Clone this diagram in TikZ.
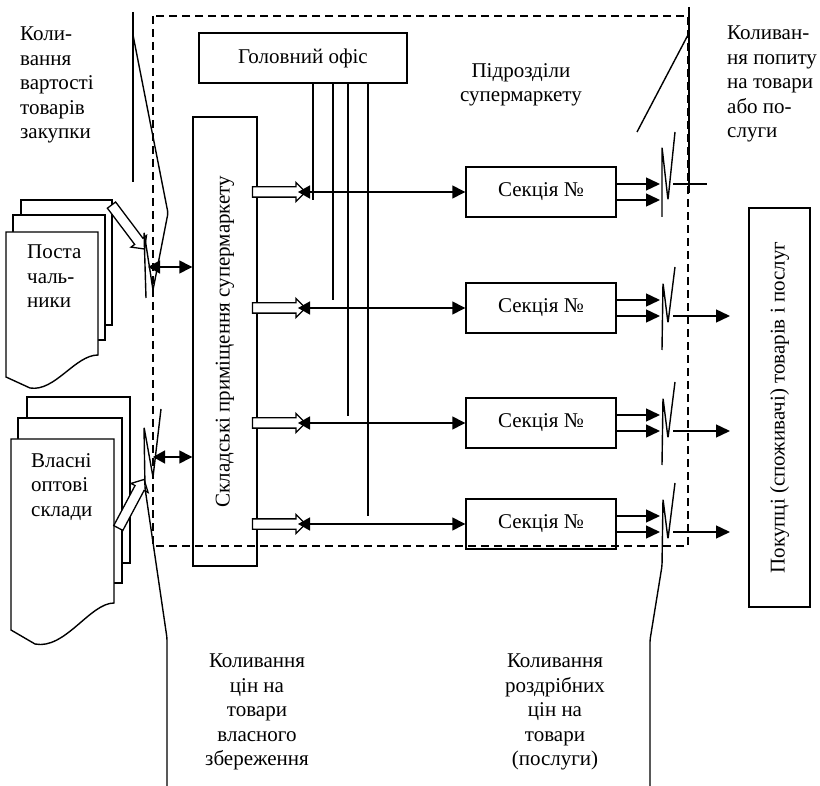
\documentclass[tikz,border=0pt]{standalone}
\usepackage{fontspec}
\setmainfont{Liberation Serif}
\usetikzlibrary{arrows.meta,shapes.arrows}

\begin{document}
\begin{tikzpicture}[x=1pt,y=-1pt,
    font=\fontsize{21}{24.5}\selectfont,
    box/.style ={draw, line width=1.4pt, rectangle, inner sep=0pt},
    link/.style ={line width=1.4pt, -{Triangle[length=14pt,width=13pt]}},
    twoway/.style ={line width=1.4pt, {Triangle[length=12pt,width=13pt]}-{Triangle[length=13pt,width=13pt]}},
    hollow/.style ={single arrow, draw, line width=1.3pt, fill=white, inner sep=4.5pt,
                    minimum height=53pt, single arrow head extend=4.5pt},
    sway/.style ={line width=1.4pt, line join=round},
    note/.style ={align=left, inner sep=0pt, anchor=north west},
    border/.style ={line width=1.4pt, dash pattern=on 8pt off 5pt}]
   \useasboundingbox (0,0) rectangle (820,786);

   % supermarket frame
   \draw[border] (153,16) rectangle (688,546);

   \node[box, minimum width=208pt, minimum height=50pt] (office) at (303,58) {Головний офіс};
   \node[box, minimum width=64pt, minimum height=449pt] (store) at (225,341.5) {};
   \node[rotate=90] (storetext) at (store.center) {Складські приміщення супермаркету};
   \node[box, minimum width=61pt, minimum height=399pt] (buyers) at (779.5,407.5) {};
   \node[rotate=90] (buyerstext) at (buyers.center) {Покупці (споживачі) товарів і послуг};

   \node[align=center, inner sep=0pt, anchor=north] (units) at (521,63) {Підрозділи\\супермаркету};

   % office lines
   \foreach \x/\e in {313/200, 333/300, 348/416, 368/516} {
      \coordinate (o\x) at (\x,\e);
      \draw[sway] (o\x |- office.south) -- (o\x);
   }

   % sections
   \foreach \i/\y in {1/192, 2/308, 3/423, 4/524} {
      \node[box, minimum width=150pt, minimum height=50pt] (sec\i) at (541,\y) {Секція №};
      \node[hollow] (h\i) at (276.5,\y) {};
      \coordinate (in\i) at (298,\y);
      \draw[twoway] (in\i) -- (sec\i.west);
      \coordinate (up\i) at (660,\y-8);
      \coordinate (dn\i) at (660,\y+8);
      \draw[link] (sec\i.east |- up\i) -- (up\i);
      \draw[link] (sec\i.east |- dn\i) -- (dn\i);
   }
   \foreach \i/\y in {2/308, 3/423} {
      \draw[sway, rounded corners=2pt] (662,\y+42) -- (663,\y-25) -- (668,\y+15) -- (675,\y-41);
   }
   \foreach \i/\y in {2/308, 3/423, 4/524} {
      \coordinate (out\i) at (730,\y+8);
      \draw[link] (673,\y+8) -- (out\i);
   }
   \draw[sway, rounded corners=2pt] (662,217) -- (662,147) -- (668,200) -- (675,132);
   \draw[sway] (673,184) -- (707,184);

   % suppliers
   \draw[box, fill=white] (21,200) rectangle (112,325);
   \draw[box, fill=white] (13,215) rectangle (105,340);
   \draw[box, fill=white] (6,232) -- (98,232) -- (98,355)
        .. controls (75,355) and (55,392) .. (30,388) -- (6,377) -- cycle;
   \node[note] (supply) at (27,245) {Поста\\чаль-\\ники};
   \node[hollow, rotate=-53, minimum height=55pt] (hs) at (126.5,225) {};

   % own warehouses
   \draw[box, fill=white] (27,397) rectangle (130,563);
   \draw[box, fill=white] (18,418) rectangle (122,583);
   \draw[box, fill=white] (11,439) -- (114,439) -- (114,603)
        .. controls (90,603) and (65,650) .. (35,644) -- (11,630) -- cycle;
   \node[note] (depot) at (31,453) {Власні\\оптові\\склади};
   \node[hollow, rotate=62, minimum height=55pt] (hd) at (130,506) {};

   % fluctuations, left
   \draw[sway] (133,12) -- (133,182);
   \draw[sway, rounded corners=2pt] (133,35) -- (168,213) -- (153,290) -- (144,232) -- (146,298);
   \coordinate (sl) at (148,267);
   \draw[twoway] (sl) -- (sl -| store.west);
   \draw[sway, rounded corners=2pt] (161,409) -- (153,477) -- (144,427) -- (145,488) -- (167,638) -- (167,786);
   \coordinate (dl) at (153,457);
   \draw[twoway] (dl) -- (dl -| store.west);

   % fluctuations, right
   \draw[sway] (689,7) -- (689,193);
   \draw[sway] (689,33) -- (637,132);
   \draw[sway, rounded corners=2pt] (650,786) -- (650,640) -- (662,566) -- (663,499) -- (668,539) -- (675,483);

   % notes
   \node[note] (buycost) at (20,27) {Коли-\\вання\\вартості\\товарів\\закупки};
   \node[note] (demand) at (727,26) {Коливан-\\ня попиту\\на товари\\або по-\\слуги};
   \node[align=center, inner sep=0pt, anchor=north] (ownprice) at (257,654) {Коливання\\цін на\\товари\\власного\\збереження};
   \node[align=center, inner sep=0pt, anchor=north] (retail) at (555,654) {Коливання\\роздрібних\\цін на\\товари\\(послуги)};
 \end{tikzpicture}
\end{document}
